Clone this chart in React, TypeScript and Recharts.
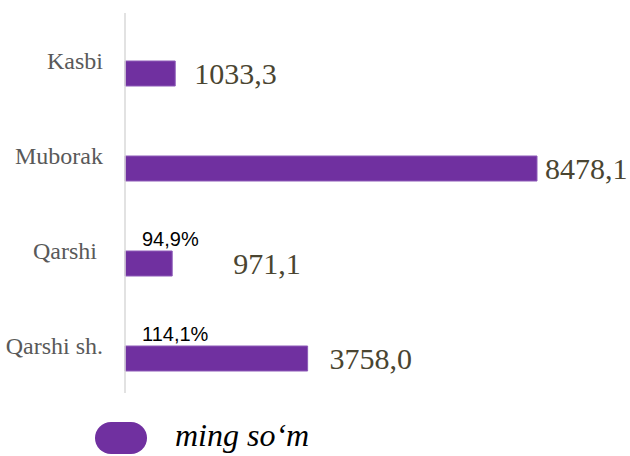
import React from 'react';
import { BarChart, Bar, XAxis, YAxis, LabelList, Legend } from 'recharts';

const categories = ['Kasbi', 'Muborak', 'Qarshi\u00a0', 'Qarshi sh.'];
const values = [1033.3, 8478.1, 971.1, 3758.0];
const percents: (number | null)[] = [null, null, 94.9, 114.1];
const seriesName = 'ming so\u2018m';

const data = categories.map((c, i) => ({ name: c, value: values[i], pct: percents[i] }));

// label nudges (style, not data)
const valueLabelDx = [19, 8, 61, 22];

const PURPLE = '#7030A0';
const fmt = (v: number) => v.toFixed(1).replace('.', ',');

const Tick = (props: any) => {
  const { x, y, payload } = props;
  return (
    <text x={x} y={y} dy={8} textAnchor="end" fill="#595959"
      style={{ fontFamily: '"Liberation Serif", "Times New Roman", serif', fontSize: 24 }}>
      {payload.value}
    </text>
  );
};

const ValueLabel = (props: any) => {
  const { x, y, width, height, value, index } = props;
  if (value == null) return null;
  return (
    <text x={x + width + valueLabelDx[index]} y={y + height / 2} dy={10} textAnchor="start" fill="#4a4531"
      style={{ fontFamily: '"Liberation Serif", "Times New Roman", serif', fontSize: 30 }}>
      {fmt(value)}
    </text>
  );
};

const PctLabel = (props: any) => {
  const { x, y, height, value } = props;
  if (value == null) return null;
  return (
    <text x={x + 17} y={y + height / 2} dy={7} textAnchor="start" fill="#000"
      style={{ fontFamily: '"Liberation Sans", Arial, sans-serif', fontSize: 20 }}>
      {fmt(value) + '%'}
    </text>
  );
};

const LegendContent = () => (
  <div style={{ position: 'relative', width: 630, height: 63 }}>
    <svg width={52} height={32} style={{ position: 'absolute', left: 95, top: 29 }}>
      <rect x={0} y={0} width={52} height={32} rx={16} ry={16} fill={PURPLE} />
    </svg>
    <span style={{ position: 'absolute', left: 175, top: 24, fontFamily: '"Liberation Serif", "Times New Roman", serif', fontStyle: 'italic', fontSize: 32, lineHeight: '36px', color: '#000', whiteSpace: 'nowrap' }}>
      {seriesName}
    </span>
  </div>
);

export default function App() {
  return (
    <div style={{ position: 'absolute', left: 0, top: 0, width: 630, height: 456, background: '#fff' }}>
      <BarChart width={630} height={456} data={data} layout="vertical"
        margin={{ top: 13, right: 93, bottom: 0, left: 0 }} barGap={0} barSize={25}>
        <XAxis type="number" hide domain={[0, 'dataMax']} />
        <YAxis type="category" dataKey="name" width={125} tickLine={false} tickSize={0} tickMargin={22}
          axisLine={{ stroke: '#d9d9d9', strokeWidth: 1.5 }} tick={<Tick />} />
        <Legend verticalAlign="bottom" height={63} content={<LegendContent />}
          wrapperStyle={{ left: 0, top: 393, width: 630, height: 63 }} />
        <Bar dataKey="pct" fill="transparent" isAnimationActive={false} legendType="none">
          <LabelList dataKey="pct" content={<PctLabel />} />
        </Bar>
        <Bar dataKey="value" name={seriesName} fill={PURPLE} stroke="#8d5bb8" strokeWidth={1} isAnimationActive={false}>
          <LabelList dataKey="value" content={<ValueLabel />} />
        </Bar>
      </BarChart>
    </div>
  );
}
